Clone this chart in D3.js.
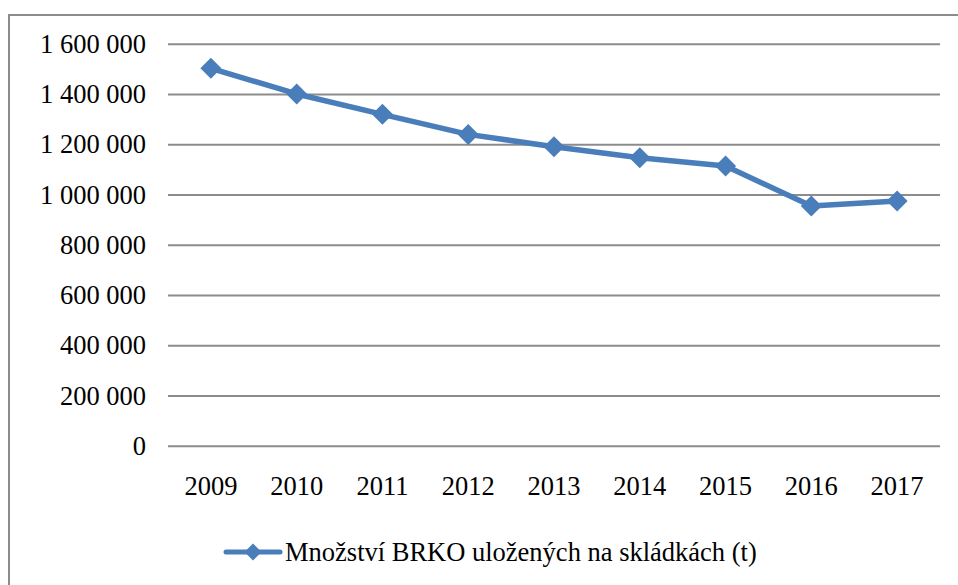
<!DOCTYPE html>
<html>
<head>
<meta charset="utf-8">
<script src="https://cdn.jsdelivr.net/npm/d3@7/dist/d3.min.js"></script>
<style>
	html, body { margin: 0; padding: 0; background: #fff; }
	svg { display: block; }
</style>
</head>
<body>
<div id="chart"></div>
<script>
const years = ["2009", "2010", "2011", "2012", "2013", "2014", "2015", "2016", "2017"];
const amounts = [1502000, 1400000, 1319000, 1239000, 1190000, 1146000, 1113000, 954000, 974000];
const yTicks = [0, 200000, 400000, 600000, 800000, 1000000, 1200000, 1400000, 1600000];
const seriesName = "Množství BRKO uložených na skládkách (t)";

const width = 958;
const height = 585;
const blue = "#4a7ebb";
const grey = "#8c8c8c";
const serif = "Liberation Serif";
const fontSize = 26.5;

const svg = d3.select("#chart")
	.append("svg")
	.attr("width", width)
	.attr("height", height)
	.attr("font-family", serif);

// outer frame, right and bottom run off the picture
svg.append("rect")
	.attr("x", 9)
	.attr("y", 15)
	.attr("width", 980)
	.attr("height", 620)
	.attr("fill", "none")
	.attr("stroke", grey)
	.attr("stroke-width", 2);

const x = d3.scaleBand().domain(years).range([168, 940]);
const y = d3.scaleLinear().domain([0, 1600000]).range([445.7, 43.7]);

const fmt = (v) => d3.format(",")(v).replace(/,/g, " ");

// gridlines + y labels
const yAxis = svg.append("g")
	.attr("transform", "translate(168,0)")
	.call(d3.axisLeft(y).tickValues(yTicks).tickFormat(fmt).tickSize(-772).tickPadding(22))
	.attr("font-family", serif)
	.attr("font-size", fontSize);
yAxis.select(".domain").remove();
yAxis.selectAll(".tick line").attr("stroke", grey).attr("stroke-width", 2);
yAxis.selectAll(".tick text")
	.attr("fill", "#000")
	.attr("dy", "0.33em");

// x labels
const xAxis = svg.append("g")
	.attr("transform", "translate(0,445.7)")
	.call(d3.axisBottom(x).tickSize(0).tickPadding(30))
	.attr("font-family", serif)
	.attr("font-size", fontSize);
xAxis.select(".domain").remove();
xAxis.selectAll(".tick text").attr("fill", "#000");

const points = years.map((yr, i) => ({ year: yr, value: amounts[i] }));
const cx = (d) => x(d.year) + x.bandwidth() / 2;

svg.append("path")
	.datum(points)
	.attr("fill", "none")
	.attr("stroke", blue)
	.attr("stroke-width", 5.5)
	.attr("stroke-linejoin", "round")
	.attr("d", d3.line().x(cx).y((d) => y(d.value)));

const diamond = (r) => `M0,${-r} L${r},0 L0,${r} L${-r},0 Z`;

svg.append("g")
	.selectAll("path")
	.data(points)
	.join("path")
	.attr("transform", (d) => `translate(${cx(d)},${y(d.value)})`)
	.attr("d", diamond(10.5))
	.attr("fill", blue);

// legend
const legend = svg.append("g").attr("transform", "translate(226,552)");
legend.append("line")
	.attr("x1", 0).attr("x2", 54)
	.attr("stroke", blue)
	.attr("stroke-width", 5)
	.attr("stroke-linecap", "round");
legend.append("path")
	.attr("transform", "translate(27,0)")
	.attr("d", diamond(8.5))
	.attr("fill", blue);
legend.append("text")
	.attr("x", 59)
	.attr("dy", "0.33em")
	.attr("font-family", serif)
	.attr("font-size", fontSize)
	.attr("fill", "#000")
	.text(seriesName);
</script>
</body>
</html>
